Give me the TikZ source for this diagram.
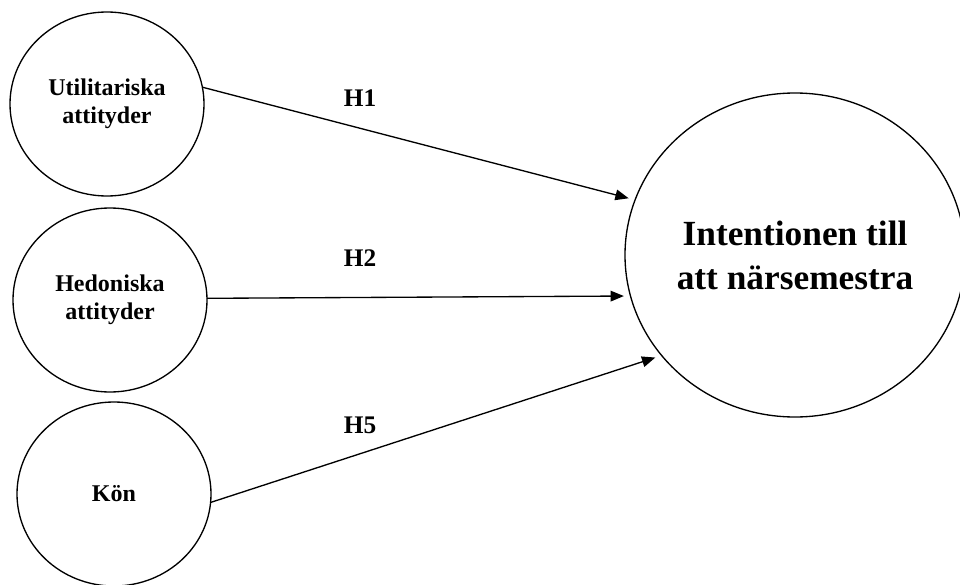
\documentclass[tikz,border=0pt]{standalone}
\usepackage{fontspec}
\setmainfont{Liberation Serif}
\usetikzlibrary{shapes.geometric,arrows.meta}
\begin{document}
\begin{tikzpicture}[x=0.75pt,y=-0.75pt,
  construct/.style={ellipse,draw,line width=1pt,inner sep=0pt,outer sep=0pt,
    align=center,font=\bfseries\fontsize{18}{21}\selectfont},
  small/.style={construct,minimum width=145.5pt,minimum height=138pt},
  big/.style={construct,minimum width=255pt,minimum height=243pt,
    font=\bfseries\fontsize{26.5}{33}\selectfont},
  hyp/.style={font=\bfseries\fontsize{19}{22}\selectfont},
  link/.style={line width=1pt,-{Triangle[length=10pt,width=8pt]},shorten >=5pt}]
  \useasboundingbox (0,0) rectangle (960,585);
  \node[small] (util)  at (107,104) {Utilitariska\\attityder};
  \node[small] (hedon) at (110,300) {Hedoniska\\attityder};
  \node[small] (kon)   at (114,494) {Kön};
  \node[big]   (intent) at (795,255) {Intentionen till\\att närsemestra};
  \draw[link] (util.10) -- (intent.161);
  \draw[link] (hedon.1) -- (intent.194);
  \draw[link] (kon.-5)  -- (intent.217);
  \node[hyp] (h1) at (360,98)  {H1};
  \node[hyp] (h2) at (360,258) {H2};
  \node[hyp] (h5) at (360,425) {H5};
\end{tikzpicture}
\end{document}
